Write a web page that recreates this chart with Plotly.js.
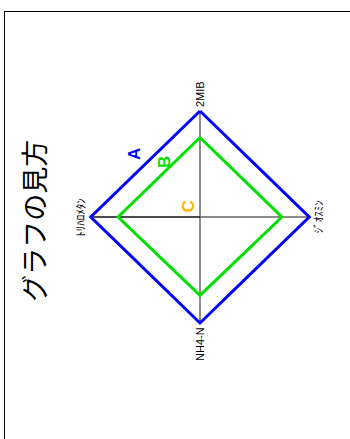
<!DOCTYPE html>
<html>
<head>
<meta charset="utf-8">
<script src="https://cdn.plot.ly/plotly-3.0.1.min.js"></script>
<style>
  html, body { margin: 0; padding: 0; background: #fff; overflow: hidden; }
  #chart { position: absolute; left: 0; top: 0; width: 350px; height: 439px; }
  #frame { position: absolute; left: 4px; top: 11px; width: 400px; height: 500px;
           border-left: 1.5px solid #000; border-top: 1.5px solid #000; pointer-events: none; }
</style>
</head>
<body>
<div id="chart"></div>
<div id="frame"></div>
<script>
// axes of the diagram, clockwise from the top
const categories = ['2MIB', 'ｼﾞｵｽﾐﾝ', 'NH4-N', 'ﾄﾘﾊﾛﾒﾀﾝ'];
const directions = [[0, 1], [1, 0], [0, -1], [-1, 0]];
const seriesA = [1, 1, 1, 1];
const seriesB = [0.75, 0.75, 0.74, 0.75];
const seriesNames = ['A', 'B', 'C'];
const chartTitle = 'グラフの見方';

const FONT = '"Liberation Sans", Arial, "Noto Sans CJK JP", sans-serif';

// plot area in pixels (x: -1.3..1.3, y: -1.5..1.5)
const L = 58.3, R = 8.3, T = 58, B = 63;
const W = 350 - L - R, H = 439 - T - B;

// turn a list of radial values into a closed polygon
function polygon(vals) {
  const xs = vals.map((v, i) => v * directions[i][0]);
  const ys = vals.map((v, i) => v * directions[i][1]);
  xs.push(xs[0]);
  ys.push(ys[0]);
  return { xs, ys };
}

const traces = [];

// spokes from the centre
categories.forEach((c, i) => {
  traces.push({
    x: [0, directions[i][0]], y: [0, directions[i][1]],
    mode: 'lines', hoverinfo: 'skip', showlegend: false,
    line: { color: i === 3 ? '#111' : '#666', width: 1.5 }
  });
});

const pa = polygon(seriesA);
traces.push({ x: pa.xs, y: pa.ys, mode: 'lines', name: 'A', showlegend: false,
  line: { color: '#0000ff', width: 3 } });
const pb = polygon(seriesB);
traces.push({ x: pb.xs, y: pb.ys, mode: 'lines', name: 'B', showlegend: false,
  line: { color: '#00e000', width: 3 } });

const annotations = [];

// category labels, rotated
categories.forEach((c, i) => {
  const [dx, dy] = directions[i];
  annotations.push({
    x: seriesA[i] * dx, y: seriesA[i] * dy, xref: 'x', yref: 'y',
    text: c, showarrow: false, textangle: -90,
    font: { family: FONT, size: 11, color: '#000' },
    xanchor: dx > 0 ? 'left' : dx < 0 ? 'right' : 'center',
    yanchor: dy > 0 ? 'bottom' : dy < 0 ? 'top' : 'middle',
    xshift: dx * 2, yshift: dy * 2
  });
});

// series letters
const letterPos = [[-0.595, 0.595], [-0.32, 0.52], [-0.11, 0.1]];
const letterCol = ['#0000ff', '#00e000', '#ffb300'];
seriesNames.forEach((n, i) => {
  annotations.push({
    x: letterPos[i][0], y: letterPos[i][1], xref: 'x', yref: 'y',
    text: '<b>' + n + '</b>', showarrow: false, textangle: -90,
    font: { family: FONT, size: 17, color: letterCol[i] }
  });
});

// title, left of the plot area
annotations.push({
  x: (33 - L) / W, y: 1 - (221 - T) / H, xref: 'paper', yref: 'paper',
  xanchor: 'center', yanchor: 'middle',
  text: chartTitle, showarrow: false, textangle: -90,
  font: { family: '"Noto Sans CJK JP", sans-serif', size: 27, color: '#000' }
});

const layout = {
  width: 350, height: 439,
  margin: { l: L, r: R, t: T, b: B, pad: 0 },
  paper_bgcolor: '#fff', plot_bgcolor: 'rgba(0,0,0,0)',
  showlegend: false,
  xaxis: { range: [-1.3, 1.3], visible: false, fixedrange: true },
  yaxis: { range: [-1.5, 1.5], visible: false, fixedrange: true },
  annotations: annotations
};

Plotly.newPlot('chart', traces, layout, { staticPlot: true, displayModeBar: false });
</script>
</body>
</html>
